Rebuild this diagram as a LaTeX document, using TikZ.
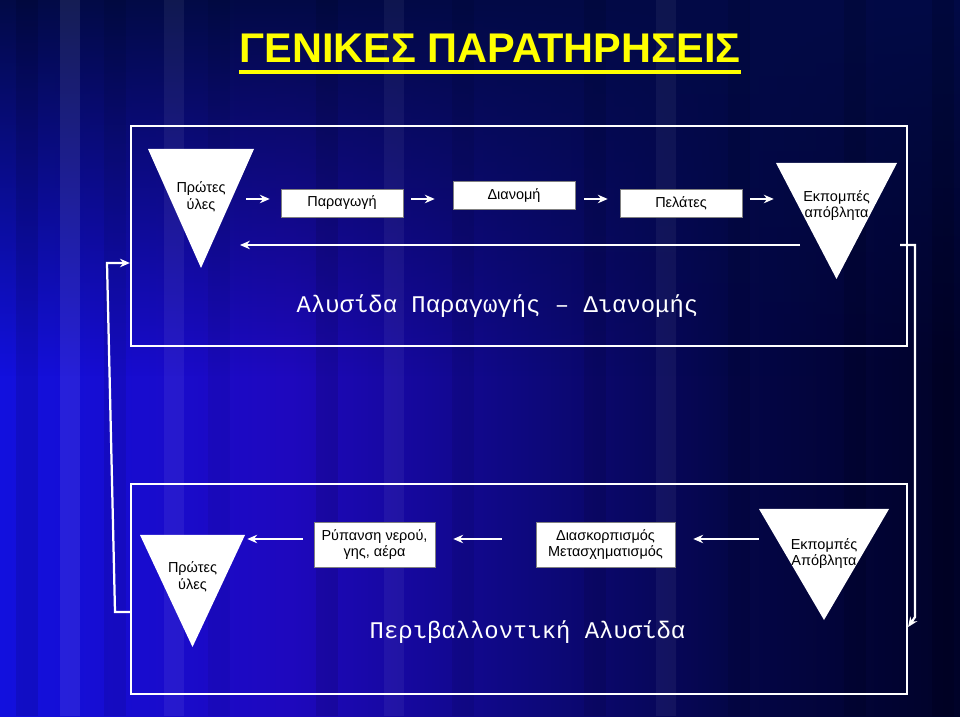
\documentclass[tikz,border=0pt]{standalone}
\usepackage{fontspec}
\setmainfont{Liberation Sans}
\newfontfamily\chainfont{Liberation Mono}
\usetikzlibrary{arrows.meta, fadings}

\definecolor{bgbright}{RGB}{18,16,222}
\definecolor{bgviolet}{RGB}{30,8,190}
\definecolor{bgmid}{RGB}{14,8,128}
\definecolor{bgnavy}{RGB}{4,6,72}
\definecolor{bgdark}{RGB}{0,2,40}
\definecolor{bgtop}{RGB}{2,10,70}
\definecolor{headyellow}{RGB}{255,255,0}

\pgfdeclarehorizontalshading{backdrop}{100bp}{color(0bp)=(bgbright); color(25bp)=(bgbright); color(40bp)=(bgviolet); color(52bp)=(bgmid); color(63bp)=(bgnavy); color(75bp)=(bgdark); color(100bp)=(bgdark)}
\tikzfading[name=topfade, top color=transparent!0, bottom color=transparent!100]

\tikzset{
    panel/.style={draw=white, line width=1.6pt, minimum width=19.4cm, inner sep=0pt},
    box/.style={fill=white, draw=black!50, line width=0.4pt, align=center, minimum width=3.05cm, minimum height=0.7cm, inner sep=1pt, font=\fontsize{10.3}{11.6}\selectfont},
    tri/.style 2 args={minimum width=#1, minimum height=#2, inner sep=1pt, align=center, font=\fontsize{10.3}{11.6}\selectfont, text depth=0.9cm,
        path picture={\fill[white] (path picture bounding box.north west) -- (path picture bounding box.north east) -- (path picture bounding box.south) -- cycle;}},
    arr/.style={draw=white, line width=1.6pt, -{Stealth[length=7pt, width=6pt]}},
    chaintitle/.style={text=white, anchor=base, font=\chainfont\fontsize{17}{20}\selectfont}
}

\begin{document}
\begin{tikzpicture}
    \useasboundingbox (0,0) rectangle (24,17.9);
    % Background
    \shade[shading=backdrop] (0,0) rectangle (24,17.9);
    \fill[bgtop, path fading=topfade] (0,8.5) rectangle (24,17.9);
    \foreach \x/\o in {0.4/0.10, 2.6/0.08, 5.2/0.06, 7.9/0.10, 11.3/0.07, 14.6/0.09, 18.2/0.08, 21.1/0.10, 23.3/0.12}
        \fill[black, opacity=\o] (\x,0) rectangle ++(0.55,17.9);
    \foreach \x/\o in {1.5/0.08, 4.1/0.06, 9.6/0.05, 16.4/0.05}
        \fill[white, opacity=\o] (\x,0) rectangle ++(0.5,17.9);

    % Title
    \node[anchor=base, inner sep=0pt, text=headyellow, font=\bfseries\fontsize{29.5}{33}\selectfont] (head) at (12.25,16.325) {ΓΕΝΙΚΕΣ ΠΑΡΑΤΗΡΗΣΕΙΣ};
    \draw[headyellow, line width=3.2pt] ([yshift=-0.225cm]head.base west) -- ([yshift=-0.225cm]head.base east);

    % Frames
    \node[panel, minimum height=5.5cm] (chain) at (12.975,12.0) {};
    \node[panel, minimum height=5.25cm] (env) at (12.975,3.175) {};

    % Production - distribution chain
    \node[tri={2.65cm}{2.975cm}, text depth=0.65cm] (raw1) at (5.025,12.6875) {Πρώτες\\ύλες};
    \node[box] (prod) at (8.55,12.825) {Παραγωγή};
    \node[box] (dist) at (12.85,13.0125) {Διανομή};
    \node[box] (cust) at (17.025,12.825) {Πελάτες};
    \node[tri={3.025cm}{2.9cm}, text depth=0.84cm] (waste1) at (20.9125,12.375) {Εκπομπές\\απόβλητα};
    \node[chaintitle] (title1) at (12.4375,10.075) {Αλυσίδα Παραγωγής – Διανομής};

    % Environmental chain
    \node[tri={2.625cm}{2.8cm}, text depth=0.78cm] (raw2) at (4.8125,3.125) {Πρώτες\\ύλες};
    \node[box, minimum width=3.025cm, minimum height=1.125cm] (poll) at (9.3625,4.2875) {Ρύπανση νερού,\\γης, αέρα};
    \node[box, minimum width=3.475cm, minimum height=1.125cm] (disp) at (15.1375,4.2875) {Διασκορπισμός\\Μετασχηματισμός};
    \node[tri={3.25cm}{2.775cm}, text depth=0.63cm] (waste2) at (20.6,3.7875) {Εκπομπές\\Απόβλητα};
    \node[chaintitle] (title2) at (13.1875,1.95) {Περιβαλλοντική Αλυσίδα};

    \coordinate (row) at (0,12.925);
    \coordinate (back) at (0,11.775);
    \coordinate (low) at (0,4.425);
    \coordinate (rturn) at (22.875,11.775);
    \coordinate (rdown) at (22.875,2.475);
    \coordinate (rend) at (0,2.225);
    \coordinate (lbot) at (2.875,2.6);
    \coordinate (ltop) at (2.675,11.325);

    % Transitions
    \path
        (raw1.east |- row)
            edge [arr, shorten <=-0.2cm, shorten >=0.275cm] (prod.west |- row)
        (prod.east |- row)
            edge [arr, shorten <=0.2cm, shorten >=0.45cm] (dist.west |- row)
        (dist.east |- row)
            edge [arr, shorten <=0.225cm, shorten >=0.3cm] (cust.west |- row)
        (cust.east |- row)
            edge [arr, shorten <=0.2cm, shorten >=0.05cm] (waste1.west |- row)
        (waste1.center |- back)
            edge [arr, shorten <=0.9125cm, shorten >=0.975cm] (raw1.center |- back)
        (poll.west |- low)
            edge [arr, shorten <=0.275cm, shorten >=0.05cm] (raw2.east |- low)
        (disp.west |- low)
            edge [arr, shorten <=0.85cm, shorten >=0.45cm] (poll.east |- low)
        (waste2.west |- low)
            edge [arr, shorten >=0.45cm] (disp.east |- low)
        ;
    % Feedback between the chains
    \draw[arr, shorten <=-0.2cm] (chain.east |- back) -- (rturn) -- (rdown) -- (env.east |- rend);
    \draw[arr] (env.west |- lbot) -- (lbot) -- (ltop) -- (chain.west |- ltop);
\end{tikzpicture}
\end{document}
